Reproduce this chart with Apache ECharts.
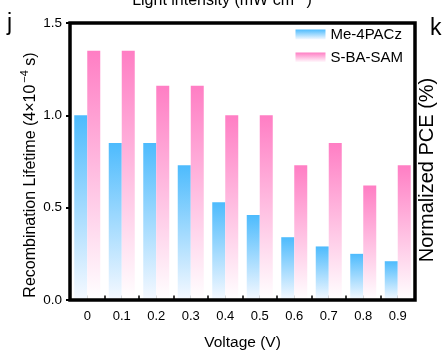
<!DOCTYPE html>
<html>
<head>
<meta charset="utf-8">
<script src="https://cdn.jsdelivr.net/npm/echarts@6/dist/echarts.min.js"></script>
<style>html,body{margin:0;padding:0;background:#fff;}#c{width:444px;height:362px;}</style>
</head>
<body>
<div id="c"></div>
<script>
const voltages = ['0','0.1','0.2','0.3','0.4','0.5','0.6','0.7','0.8','0.9'];
const me4pacz = [1.0, 0.85, 0.85, 0.73, 0.53, 0.46, 0.34, 0.29, 0.25, 0.21];
const sbasam = [1.35, 1.35, 1.16, 1.16, 1.0, 1.0, 0.73, 0.85, 0.62, 0.73];
const yTicks = [0, 0.5, 1.0, 1.5];

const FONT = '"Liberation Sans", Arial, sans-serif';
const chart = echarts.init(document.getElementById('c'), null, {renderer: 'canvas'});

function grad(top, bottom) {
  return new echarts.graphic.LinearGradient(0, 0, 0, 1, [
    {offset: 0, color: top}, {offset: 1, color: bottom}
  ]);
}
const blueGrad = grad('#4dbbfd', '#f6f9ff');
const pinkGrad = grad('#ff7ec4', '#ffffff');

const G = {left: 70, right: 29, top: 23, bottom: 62};
const richY = {
  a: {fontSize: 16, fontFamily: FONT, color: '#000', lineHeight: 20, verticalAlign: 'bottom'},
  s: {fontSize: 11, fontFamily: FONT, color: '#000', lineHeight: 20, verticalAlign: 'top', padding: [0, 0, 0, 2]}
};

chart.setOption({
  animation: false,
  textStyle: {fontFamily: FONT, color: '#000'},
  grid: {left: G.left, right: G.right, top: G.top, bottom: G.bottom, containLabel: false},
  legend: {
    right: 36, top: 22, orient: 'vertical', itemWidth: 30, itemHeight: 10, itemGap: 8,
    icon: 'rect', textStyle: {fontSize: 15, fontFamily: FONT, color: '#000'},
    data: ['Me-4PACz', 'S-BA-SAM']
  },
  xAxis: [{
    type: 'category', data: voltages, position: 'bottom',
    axisLine: {show: false},
    axisTick: {show: true, inside: true, length: 4.5, lineStyle: {color: '#000', width: 1.5}},
    axisLabel: {fontSize: 13, color: '#000', margin: 10, fontFamily: FONT},
    name: 'Voltage (V)', nameLocation: 'middle', nameGap: 35,
    nameTextStyle: {fontSize: 15.5, color: '#000', fontFamily: FONT}
  }, {
    type: 'category', data: voltages, position: 'bottom',
    axisLine: {show: false},
    axisTick: {show: true, inside: true, alignWithLabel: true, length: 4.5, lineStyle: {color: '#000', width: 1.5}},
    axisLabel: {show: false}
  }],
  yAxis: [{
    type: 'value', min: yTicks[0], max: yTicks[yTicks.length - 1], interval: 0.5,
    axisLine: {show: false},
    axisTick: {show: true, length: 4, lineStyle: {color: '#000', width: 2}},
    splitLine: {show: false},
    axisLabel: {fontSize: 13.5, color: '#000', margin: 8, fontFamily: FONT,
      formatter: v => v.toFixed(1)}
  }],
  series: [{
    name: 'Me-4PACz', type: 'bar', data: me4pacz, barWidth: 13, barGap: '0%',
    itemStyle: {color: blueGrad}
  }, {
    name: 'S-BA-SAM', type: 'bar', data: sbasam, barWidth: 13, barGap: '0%',
    itemStyle: {color: pinkGrad}
  }],
  graphic: [
    {type: 'rect', z: 100, silent: true,
      shape: {x: G.left, y: G.top, width: 444 - G.left - G.right, height: 362 - G.top - G.bottom},
      style: {fill: 'none', stroke: '#000', lineWidth: 3.5}},
    {type: 'text', x: 29, y: 175, rotation: Math.PI / 2, style: {
      text: '{a|Recombination Lifetime (4×10}{s|−4}{a| s)}', fill: '#000',
      textAlign: 'center', textVerticalAlign: 'middle', rich: richY
    }},
    {type: 'text', left: 7, top: 12, style: {text: 'j', font: '23px ' + FONT, fill: '#000'}},
    {type: 'text', left: 430, top: 17, style: {text: 'k', font: '23px ' + FONT, fill: '#000'}},
    {type: 'text', x: 222, y: 9, style: {
      text: '{a|Light intensity (mW cm}{s|−2}{a|)}', fill: '#000',
      textAlign: 'center', textVerticalAlign: 'bottom',
      rich: {
        a: {fontSize: 16, fontFamily: FONT, color: '#000', lineHeight: 20, verticalAlign: 'bottom'},
        s: {fontSize: 11, fontFamily: FONT, color: '#000', lineHeight: 20, verticalAlign: 'top'}
      }
    }},
    {type: 'text', x: 427, y: 170, rotation: Math.PI / 2, style: {
      text: 'Normalized PCE (%)', font: '20px ' + FONT, fill: '#000',
      textAlign: 'center', textVerticalAlign: 'middle'
    }}
  ]
});
</script>
</body>
</html>
